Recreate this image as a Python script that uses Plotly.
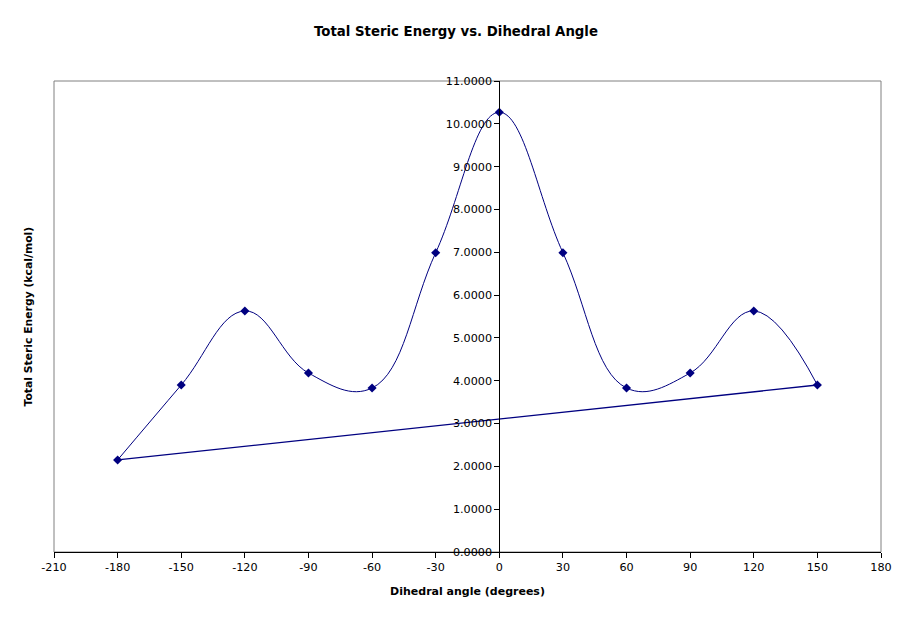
import plotly.graph_objects as go

# Dihedral angle (degrees) in the order the series was plotted (returning to -180 at the end)
angles = [-180, -150, -120, -90, -60, -30, 0, 30, 60, 90, 120, 150, -180]
energies = [2.15, 3.90, 5.63, 4.18, 3.83, 6.99, 10.27, 6.99, 3.83, 4.18, 5.63, 3.90, 2.15]

x_ticks = [-210, -180, -150, -120, -90, -60, -30, 0, 30, 60, 90, 120, 150, 180]
y_ticks = [0, 1, 2, 3, 4, 5, 6, 7, 8, 9, 10, 11]

navy = "#000080"
font_family = "DejaVu Sans, Verdana, sans-serif"

# the page body adds an 8px offset, so the figure is sized/margined to compensate
W, H = 903, 615
L, R, T, B = 46, 30, 73, 71

fig = go.Figure()
# smoothed sweep from -180 to 150
fig.add_trace(go.Scatter(
    x=angles[:-1], y=energies[:-1],
    mode="lines+markers",
    line=dict(color=navy, width=1, shape="spline", smoothing=1.15),
    marker=dict(symbol="diamond", size=7, color=navy),
    showlegend=False,
    hoverinfo="x+y",
))
# closing segment from 150 back to -180
fig.add_trace(go.Scatter(
    x=angles[-2:], y=energies[-2:],
    mode="lines",
    line=dict(color=navy, width=1.3),
    showlegend=False,
    hoverinfo="skip",
))

x_min, x_max = -210, 180
plot_w = W - L - R
fig.update_layout(
    width=W, height=H,
    margin=dict(l=L, r=R, t=T, b=B, autoexpand=False),
    paper_bgcolor="white",
    plot_bgcolor="white",
    font=dict(family=font_family, color="black", size=11),
    title=dict(
        text="<b>Total Steric Energy vs. Dihedral Angle</b>",
        x=(456 - 8) / W, xanchor="center", y=1 - 23 / H, yanchor="middle",
        font=dict(size=13.3, family=font_family, color="black"),
    ),
    xaxis=dict(
        range=[x_min, x_max],
        tickmode="array", tickvals=x_ticks,
        ticktext=[str(v) for v in x_ticks],
        showgrid=False, zeroline=False,
        showline=True, linecolor="black", linewidth=1,
        ticks="outside", ticklen=5, tickcolor="black",
        tickfont=dict(size=11.2),
        title=dict(text="<b>Dihedral angle (degrees)</b>", font=dict(size=11), standoff=13),
        fixedrange=True,
    ),
    yaxis=dict(
        range=[0, 11],
        tickmode="array", tickvals=y_ticks,
        tickformat=".4f",
        showgrid=False, zeroline=False,
        showline=True, linecolor="black", linewidth=1,
        ticks="outside", ticklen=5, tickcolor="black",
        tickfont=dict(size=11.2),
        anchor="free", position=(0 - x_min) / (x_max - x_min),
        title=None,
        fixedrange=True,
    ),
    shapes=[dict(
        type="rect", xref="paper", yref="paper", x0=0, x1=1, y0=0, y1=1,
        line=dict(color="#808080", width=1), layer="below",
    )],
    annotations=[dict(
        text="<b>Total Steric Energy (kcal/mol)</b>",
        xref="paper", yref="paper", x=-(54 - 28) / plot_w, y=0.5,
        xanchor="center", yanchor="middle", textangle=-90,
        showarrow=False, font=dict(size=10.8, family=font_family, color="black"),
    )],
)

fig.write_html("out.html")
